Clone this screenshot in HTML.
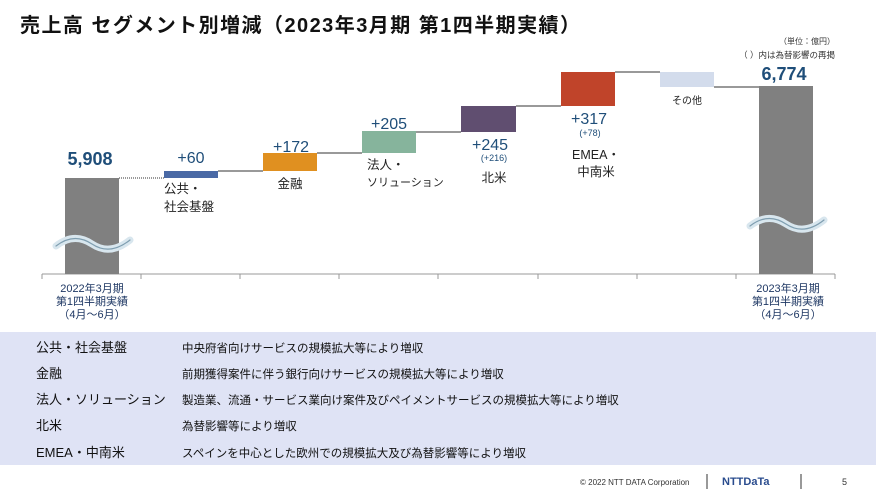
<!DOCTYPE html>
<html><head><meta charset="utf-8"><style>
body{margin:0;width:876px;height:489px;overflow:hidden;background:#fff;font-family:"Liberation Sans","Noto Sans CJK JP",sans-serif}
</style></head><body>
<svg width="876" height="489" xmlns="http://www.w3.org/2000/svg" font-family="Liberation Sans, Noto Sans CJK JP, sans-serif">
<text x="20" y="32" font-size="20" font-weight="bold" fill="#111" textLength="560" lengthAdjust="spacing">売上高  セグメント別増減（2023年3月期 第1四半期実績）</text>
<text x="835" y="44" font-size="8" fill="#333" text-anchor="end">（単位：億円）</text>
<text x="835" y="58" font-size="8.5" fill="#333" text-anchor="end">（ ）内は為替影響の再掲</text>
<line x1="42" y1="274" x2="835" y2="274" stroke="#999"/>
<g stroke="#999"><line x1="42" y1="274" x2="42" y2="279"/><line x1="141" y1="274" x2="141" y2="279"/><line x1="240" y1="274" x2="240" y2="279"/><line x1="339" y1="274" x2="339" y2="279"/><line x1="438" y1="274" x2="438" y2="279"/><line x1="538" y1="274" x2="538" y2="279"/><line x1="637" y1="274" x2="637" y2="279"/><line x1="736" y1="274" x2="736" y2="279"/><line x1="835" y1="274" x2="835" y2="279"/></g>
<g stroke="#333" stroke-width="1"><line x1="119" y1="178" x2="164" y2="178" stroke-dasharray="1,1"/><line x1="218" y1="171" x2="263" y2="171"/><line x1="317" y1="153" x2="362" y2="153"/><line x1="416" y1="132" x2="461" y2="132"/><line x1="516" y1="106" x2="561" y2="106"/><line x1="615" y1="72" x2="660" y2="72"/><line x1="714" y1="87" x2="759" y2="87"/></g>
<rect x="65" y="178" width="54" height="96" fill="#808080"/>
<rect x="164" y="171" width="54" height="7" fill="#4a69a5"/>
<rect x="263" y="153" width="54" height="18" fill="#e09020"/>
<rect x="362" y="131" width="54" height="22" fill="#86b49c"/>
<rect x="461" y="106" width="55" height="26" fill="#604e70"/>
<rect x="561" y="72" width="54" height="34" fill="#c0442a"/>
<rect x="660" y="72" width="54" height="15" fill="#d3dcec"/>
<rect x="759" y="86" width="54" height="188" fill="#808080"/>
<g fill="none" stroke-linecap="round">
<path d="M56 246 Q74 232 92 244 T130 240" stroke="#d8e6ee" stroke-width="7"/>
<path d="M56 246 Q74 232 92 244 T130 240" stroke="#7f9eb0" stroke-width="1.2"/>
<path d="M750 226 Q768 212 786 224 T824 220" stroke="#d8e6ee" stroke-width="7"/>
<path d="M750 226 Q768 212 786 224 T824 220" stroke="#7f9eb0" stroke-width="1.2"/>
</g>
<g fill="#1f4e79" font-weight="bold" font-size="18"><text x="90" y="165" text-anchor="middle">5,908</text><text x="784" y="80" text-anchor="middle">6,774</text></g>
<g fill="#1f4e79" font-size="16" text-anchor="middle"><text x="191" y="163">+60</text><text x="291" y="152">+172</text><text x="389" y="129">+205</text><text x="490" y="150">+245</text><text x="589" y="124">+317</text></g>
<g fill="#1f4e79" font-size="9" text-anchor="middle"><text x="494" y="161">(+216)</text><text x="590" y="136">(+78)</text></g>
<g fill="#222" font-size="12.5"><text x="164" y="193">公共・</text><text x="164" y="211">社会基盤</text><text x="290" y="188" text-anchor="middle">金融</text><text x="367" y="169">法人・</text><text x="367" y="186" font-size="11">ソリューション</text><text x="494" y="182" text-anchor="middle">北米</text><text x="596" y="159" text-anchor="middle">EMEA・</text><text x="596" y="176" text-anchor="middle">中南米</text><text x="687" y="104" text-anchor="middle" font-size="10">その他</text></g>
<g fill="#1f3864" font-size="11" text-anchor="middle"><text x="92" y="292">2022年3月期</text><text x="92" y="305">第1四半期実績</text><text x="92" y="318">（4月～6月）</text><text x="788" y="292">2023年3月期</text><text x="788" y="305">第1四半期実績</text><text x="788" y="318">（4月～6月）</text></g>
<rect x="0" y="332" width="876" height="133" fill="#dfe3f5"/>
<g font-size="13" fill="#111"><text x="36" y="352">公共・社会基盤</text><text x="36" y="378">金融</text><text x="36" y="404">法人・ソリューション</text><text x="36" y="430">北米</text><text x="36" y="457">EMEA・中南米</text></g>
<g font-size="11.5" fill="#111"><text x="182" y="352">中央府省向けサービスの規模拡大等により増収</text><text x="182" y="378">前期獲得案件に伴う銀行向けサービスの規模拡大等により増収</text><text x="182" y="404">製造業、流通・サービス業向け案件及びペイメントサービスの規模拡大等により増収</text><text x="182" y="430">為替影響等により増収</text><text x="182" y="457">スペインを中心とした欧州での規模拡大及び為替影響等により増収</text></g>
<text x="580" y="485" font-size="8" fill="#333">© 2022 NTT DATA Corporation</text>
<line x1="707" y1="474" x2="707" y2="489" stroke="#333"/>
<text x="722" y="485" font-size="11" font-weight="bold" fill="#2a4c8e">NTTDaTa</text>
<line x1="801" y1="474" x2="801" y2="489" stroke="#333"/>
<text x="842" y="485" font-size="9" fill="#333">5</text>
</svg>
</body></html>
